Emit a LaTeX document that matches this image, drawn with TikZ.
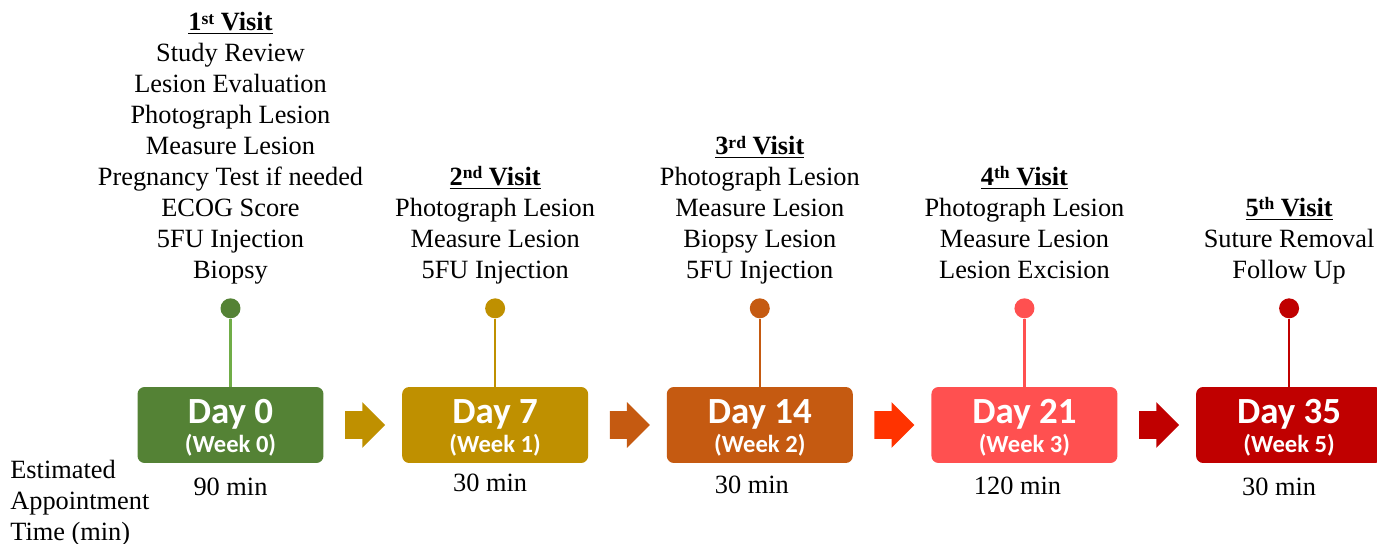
\documentclass[tikz,border=0pt]{standalone}
\usepackage{fontspec}
\setmainfont{Liberation Serif}
\newfontfamily\dayfont{Carlito}
\usetikzlibrary{positioning,shapes.arrows}

\definecolor{visitA}{HTML}{548235}
\definecolor{visitAline}{HTML}{70AD47}
\definecolor{visitB}{HTML}{BF9000}
\definecolor{visitC}{HTML}{C55A11}
\definecolor{visitD}{HTML}{FF5050}
\definecolor{visitE}{HTML}{C00000}
\definecolor{arrowC}{HTML}{FF3300}

\newcommand{\daytext}[2]{\raisebox{-2.3pt}[\height][\depth]{\begin{tabular}{@{}c@{}}{\fontsize{21}{22}\selectfont Day #1}\\[2.4pt]{\fontsize{14}{15}\selectfont (Week #2)}\end{tabular}}}
\newcommand{\visittitle}[2]{{\bfseries\underline{#1\raisebox{0.55ex}{\fontsize{10}{10}\selectfont #2} Visit}}}
\newcommand{\visitlines}[1]{\begin{tabular}{@{}c@{}}#1\end{tabular}}

\begin{document}
\begin{tikzpicture}[
		x=0.02cm, y=-0.02cm,
		every node/.style={font=\rmfamily\fontsize{15}{17.6}\selectfont},
		daybox/.style={ rounded corners=4pt, minimum width=3.72cm, minimum height=1.52cm, inner sep=0pt, text=white, font=\dayfont\bfseries, },
		dot/.style={ circle, inner sep=0pt, minimum size=0.4cm, },
		stem/.style={ line width=1.3pt, },
		steps/.style={ inner sep=0pt, },
		mins/.style={ inner sep=0pt, },
		nextarr/.style={ single arrow, inner xsep=0pt, inner ysep=0.27cm, minimum width=0pt, minimum height=0.8cm, single arrow head extend=0.18cm, },
		]
		\useasboundingbox (0,0) rectangle (1377,544);
		
		% boxes for each visit day
		\node[daybox,fill=visitA] (d0) at (230.5,425) {\daytext{0}{0}};
		\node[daybox,fill=visitB,right=1.56cm of d0] (d7) {\daytext{7}{1}};
		\node[daybox,fill=visitC,right=1.56cm of d7] (d14) {\daytext{14}{2}};
		\node[daybox,fill=visitD,right=1.56cm of d14] (d21) {\daytext{21}{3}};
		\node[daybox,fill=visitE,right=1.56cm of d21] (d35) {\daytext{35}{5}};
		
		% arrows between the days
		\node[nextarr,fill=visitB,right=0.42cm of d0] (a1) {};
		\node[nextarr,fill=visitC,right=0.42cm of d7] (a2) {};
		\node[nextarr,fill=arrowC,right=0.42cm of d14] (a3) {};
		\node[nextarr,fill=visitE,right=0.42cm of d21] (a4) {};
		
		% dots and stems
		\node[dot,fill=visitA,above=1.36cm of d0] (p0) {};
		\node[dot,fill=visitB,above=1.36cm of d7] (p7) {};
		\node[dot,fill=visitC,above=1.36cm of d14] (p14) {};
		\node[dot,fill=visitD,above=1.36cm of d21] (p21) {};
		\node[dot,fill=visitE,above=1.36cm of d35] (p35) {};
		\draw[stem,visitAline](p0)--(d0);
		\draw[stem,visitB](p7)--(d7);
		\draw[stem,visitC](p14)--(d14);
		\draw[stem,visitD](p21)--(d21);
		\draw[stem,visitE](p35)--(d35);
		
		% what happens at each visit
		\node[steps,above=0.2cm of p0] (v1) {\visitlines{\visittitle{1}{st}\\Study Review\\Lesion Evaluation\\Photograph Lesion\\Measure Lesion\\Pregnancy Test if needed\\ECOG Score\\5FU Injection\\Biopsy}};
		\node[steps,above=0.2cm of p7] (v2) {\visitlines{\visittitle{2}{nd}\\Photograph Lesion\\Measure Lesion\\5FU Injection}};
		\node[steps,above=0.2cm of p14] (v3) {\visitlines{\visittitle{3}{rd}\\Photograph Lesion\\Measure Lesion\\Biopsy Lesion\\5FU Injection}};
		\node[steps,above=0.2cm of p21] (v4) {\visitlines{\visittitle{4}{th}\\Photograph Lesion\\Measure Lesion\\Lesion Excision}};
		\node[steps,above=0.2cm of p35] (v5) {\visitlines{\visittitle{5}{th}\\Suture Removal\\Follow Up}};
		
		% appointment times
		\node[mins,below=0.28cm of d0] (t0) {90 min};
		\node[mins,below=0.2cm of d7,xshift=-0.1cm] (t7) {30 min};
		\node[mins,below=0.24cm of d14,xshift=-0.16cm] (t14) {30 min};
		\node[mins,below=0.26cm of d21,xshift=-0.14cm] (t21) {120 min};
		\node[mins,below=0.28cm of d35,xshift=-0.2cm] (t35) {30 min};
		\node[mins,align=left,anchor=north west] (est) at (10,460) {Estimated\\Appointment\\Time (min)};
	\end{tikzpicture}
\end{document}
